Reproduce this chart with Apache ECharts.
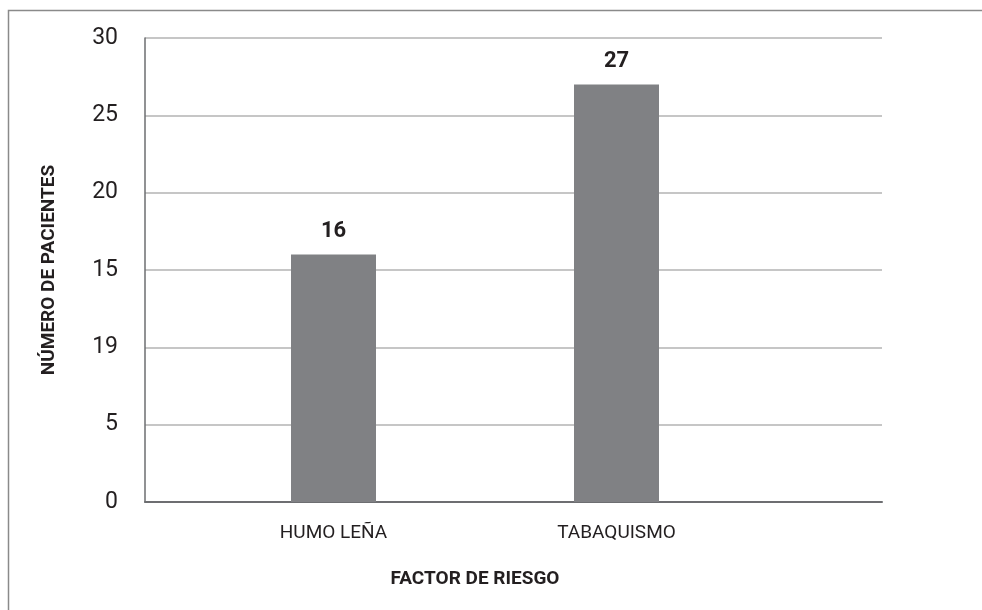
<!DOCTYPE html>
<html>
<head>
<meta charset="utf-8">
<script src="https://cdn.jsdelivr.net/npm/echarts@6/dist/echarts.min.js"></script>
<style>
  html, body { margin: 0; padding: 0; background: #fff; }
  #chart { width: 982px; height: 610px; }
</style>
</head>
<body>
<div id="chart"></div>
<script>
const categories = ["HUMO LEÑA", "TABAQUISMO"];
const patients = [16, 27];
const yTickLabels = ["0", "5", "19", "15", "20", "25", "30"];

const font = "Roboto, 'Liberation Sans Narrow', sans-serif";
const textColor = "#231f20";

const chart = echarts.init(document.getElementById("chart"));

chart.setOption({
  backgroundColor: "#fff",
  animation: false,
  graphic: [
    {
      type: "rect",
      shape: { x: 8.5, y: 10.5, width: 1000, height: 700 },
      style: { fill: "none", stroke: "#8a8a8a", lineWidth: 1.5 },
      silent: true,
    },
  ],
  grid: [
    { left: 145, right: 100, top: 38, bottom: 108 },
    { left: 192, right: 224, top: 38, bottom: 108 },
  ],
  xAxis: [
    {
      gridIndex: 0,
      type: "category",
      data: [""],
      axisTick: { show: false },
      axisLabel: { show: false },
      axisLine: { lineStyle: { color: "#6d6e71", width: 2 } },
    },
    {
      gridIndex: 1,
      type: "category",
      data: categories,
      axisTick: { show: false },
      axisLine: { show: false },
      axisLabel: {
        color: textColor,
        fontFamily: font,
        fontSize: 19,
        margin: 22,
      },
      name: "FACTOR DE RIESGO",
      nameLocation: "middle",
      nameGap: 68,
      nameTextStyle: {
        color: textColor,
        fontFamily: font,
        fontSize: 19,
        fontWeight: "bold",
      },
    },
  ],
  yAxis: [
    {
      gridIndex: 0,
      type: "value",
      min: 0,
      max: 30,
      interval: 5,
      axisLine: { show: true, lineStyle: { color: "#6d6e71", width: 1.5 } },
      axisTick: { show: false },
      splitLine: { lineStyle: { color: "#b3b3b3", width: 1.5 } },
      axisLabel: {
        color: textColor,
        fontFamily: font,
        fontSize: 23,
        margin: 27,
        formatter: (value) => yTickLabels[Math.round(value / 5)],
      },
      name: "NÚMERO DE PACIENTES",
      nameLocation: "middle",
      nameGap: 86,
      nameTextStyle: {
        color: textColor,
        fontFamily: font,
        fontSize: 19,
        fontWeight: "bold",
      },
    },
    {
      gridIndex: 1,
      type: "value",
      min: 0,
      max: 30,
      interval: 5,
      show: false,
      splitLine: { show: false },
    },
  ],
  series: [
    {
      type: "bar",
      xAxisIndex: 1,
      yAxisIndex: 1,
      data: patients,
      barWidth: 85,
      itemStyle: { color: "#808184" },
      label: {
        show: true,
        position: "top",
        distance: 12,
        color: textColor,
        fontFamily: font,
        fontSize: 22,
        fontWeight: "bold",
      },
    },
  ],
});
</script>
</body>
</html>
